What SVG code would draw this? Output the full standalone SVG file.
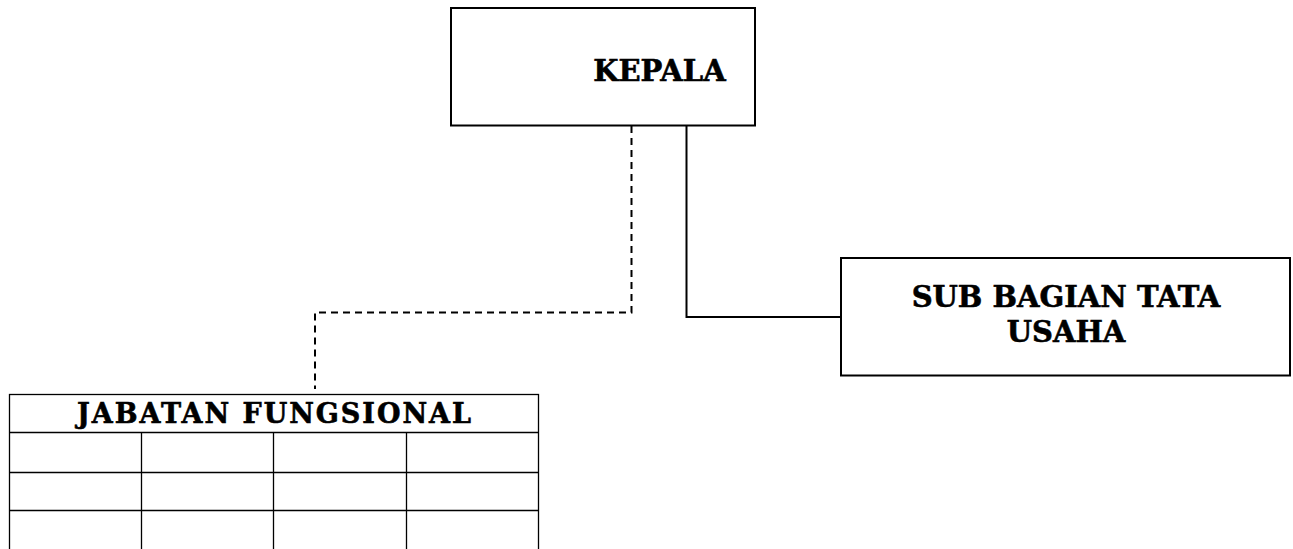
<svg xmlns="http://www.w3.org/2000/svg" width="1293" height="549" viewBox="0 0 1293 549">
<style>
.box{fill:#fff;stroke:#000;stroke-width:2}
.cell{fill:none;stroke:#000;stroke-width:1.3}
.lbl{font-family:"DejaVu Serif","Liberation Serif",serif;font-weight:bold;fill:#000;stroke:#000;stroke-width:0.6;text-anchor:middle}
.solid{fill:none;stroke:#000;stroke-width:2}
.dash{fill:none;stroke:#000;stroke-width:2;stroke-dasharray:7,5}
</style>
<rect width="1293" height="549" fill="#fff"/>
<g id="connectors">
<path class="dash" d="M631.5,126 V312.5 H315 V389"/>
<path class="solid" d="M686.5,126 V318 M686.5,317 H841"/>
</g>
<g id="kepala">
<rect class="box" x="451" y="8" width="304" height="117.5"/>
<text class="lbl" x="659.5" y="81" font-size="29">KEPALA</text>
</g>
<g id="subbagian">
<rect class="box" x="841" y="258" width="449" height="117.5"/>
<text class="lbl" x="1066" y="306.5" font-size="29">SUB BAGIAN TATA</text>
<text class="lbl" x="1066" y="341.5" font-size="29">USAHA</text>
</g>
<g id="jabatan">
<rect class="cell" x="9.5" y="394.5" width="529" height="160"/>
<text class="lbl" x="274" y="422.5" font-size="27" textLength="394" lengthAdjust="spacing">JABATAN FUNGSIONAL</text>
<path class="cell" d="M9.5,432.5 H538.5 M9.5,472.5 H538.5 M9.5,510.5 H538.5 M141.5,432.5 V549 M273.5,432.5 V549 M406.5,432.5 V549"/>
</g>
</svg>
